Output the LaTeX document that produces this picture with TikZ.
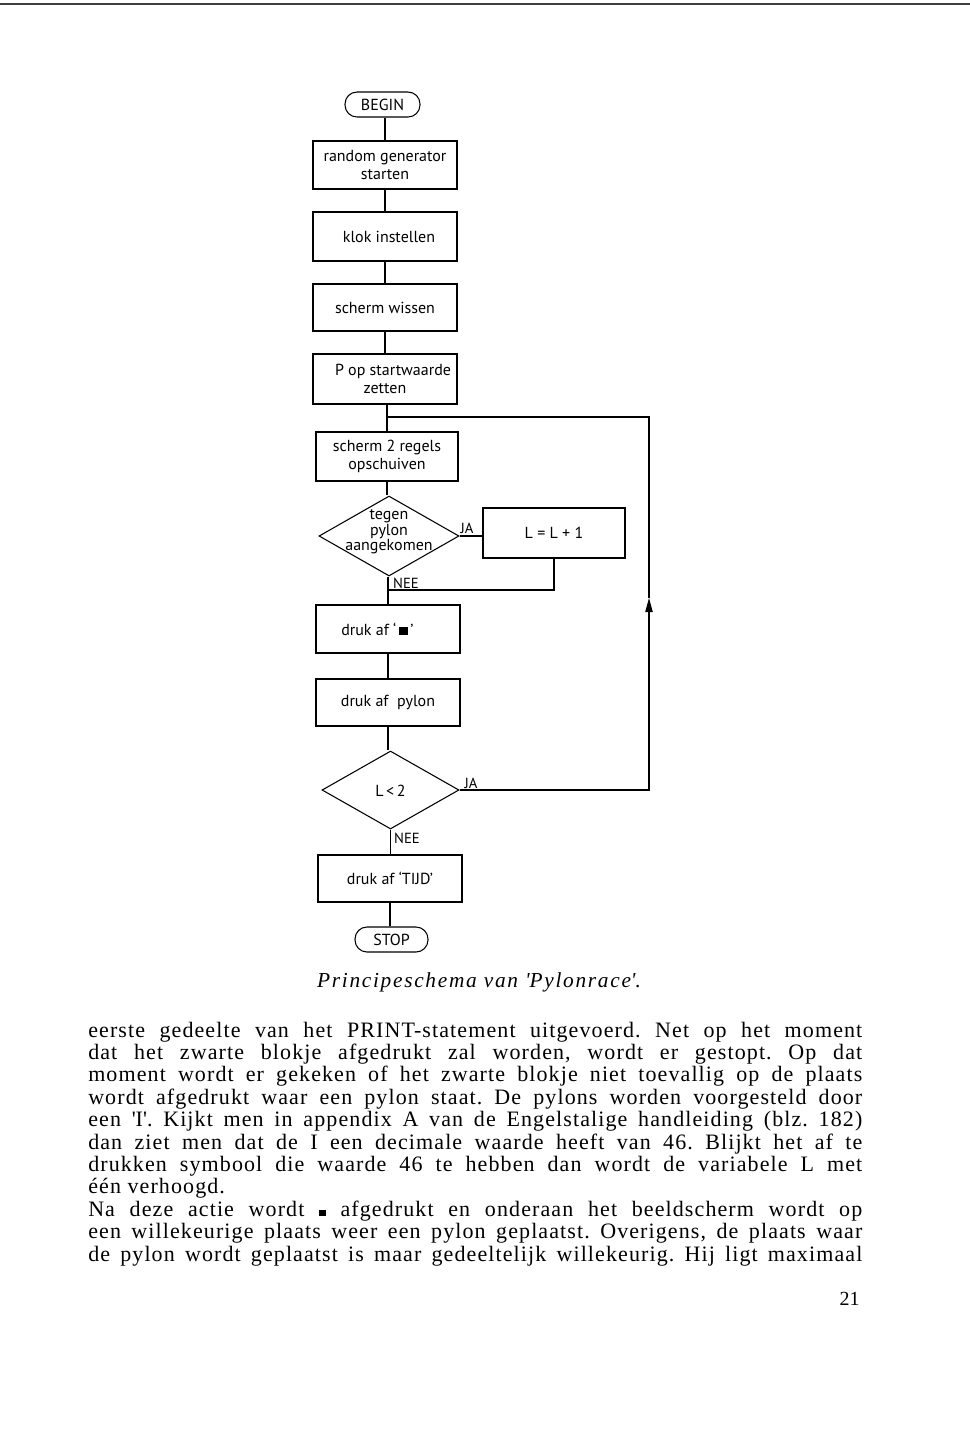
\documentclass[tikz,border=0pt]{standalone}
\usepackage{fontspec}
\setmainfont{Liberation Serif}
\newfontfamily\chartfont{PT Sans}
\newfontfamily\bodyfont[LetterSpace=5]{Liberation Serif}
\newfontfamily\capfont[LetterSpace=8]{Liberation Serif}
\usetikzlibrary{arrows.meta,shapes.geometric,calc}
\tikzset{
  flow/.style={line width=0.8pt},
  procbox/.style={draw, flow, inner sep=0pt, align=center,
     font=\chartfont\fontsize{12}{14}\selectfont},
  term/.style={draw, flow, rounded corners=9pt, inner sep=0pt,
     font=\chartfont\fontsize{12}{14}\selectfont},
  decision/.style={draw, flow, diamond, inner sep=0pt},
  dtext/.style={align=center, inner sep=0pt,
     font=\chartfont\fontsize{12}{11.5}\selectfont},
  lbl/.style={inner sep=0pt, font=\chartfont\fontsize{11}{12}\selectfont},
  bodyline/.style={anchor=base west, inner sep=0pt,
     font=\bodyfont\fontsize{16.5}{18}\selectfont},
  ahead/.style={-{Triangle[length=10.5pt,width=5.5pt]}}
}
\newcommand{\jline}[1]{\makebox[580.5pt][s]{#1}}
\frenchspacing
\begin{document}
\begin{tikzpicture}[x=0.75pt,y=-0.75pt]
\useasboundingbox (0,0) rectangle (970,1454);
% page edge line
\draw[line width=1.1pt, black!75] (0,4) -- (970,4);

% flowchart nodes
\node[term, minimum width=56.25pt, minimum height=18.75pt] (begin) at (382.5,104.5) {BEGIN};
\node[procbox, minimum width=108pt, minimum height=36pt] (b1) at (385,165) {random generator\\starten};
\node[procbox, minimum width=108pt, minimum height=36.75pt] (b2) at (385,236.5) {\hspace*{6pt}klok instellen};
\node[procbox, minimum width=108pt, minimum height=35.25pt] (b3) at (385,307.5) {scherm wissen};
\node[procbox, minimum width=108pt, minimum height=37.5pt] (b4) at (385,379) {\hspace*{12pt}P op startwaarde\\zetten};
\node[procbox, minimum width=106.5pt, minimum height=36.75pt] (b5) at (387,456.5) {scherm 2 regels\\opschuiven};
\node[decision, minimum width=105pt, minimum height=60pt] (d1) at (389,536) {};
\node[dtext] (d1t) at (389,532) {tegen\\pylon\\aangekomen};
\node[procbox, minimum width=106.5pt, minimum height=37.5pt] (ll) at (554,533) {L = L + 1};
\node[procbox, minimum width=108pt, minimum height=36pt] (b6) at (388,629) {druk af ‘\,\rule[-0.2pt]{6.5pt}{6.5pt}\,’\hspace*{16pt}};
\node[procbox, minimum width=108pt, minimum height=35.25pt] (b7) at (388,702.5) {druk af\ \ pylon};
\node[decision, minimum width=102.75pt, minimum height=58.5pt] (d2) at (390.5,790) {};
\node[dtext] (d2t) at (390.5,791) {L\,<\,2};
\node[procbox, minimum width=108pt, minimum height=35.25pt] (b8) at (390,878.5) {druk af ‘TIJD’};
\node[term, minimum width=54.75pt, minimum height=18.75pt] (stop) at (391.5,939.5) {STOP};

% labels
\node[lbl] (ja1) at (467,528) {JA};
\node[lbl] (nee1) at (406,583) {NEE};
\node[lbl] (ja2) at (471,783) {JA};
\node[lbl] (nee2) at (407,838) {NEE};

% helper coordinates
\coordinate (j) at (b5.north |- 0,417);
\coordinate (m) at (b6.north |- 0,590);
\coordinate (cr) at (649,790);
\coordinate (tip) at (649,598);
\coordinate (ctop) at (649,417);

% connectors
\draw[flow] (b1.north |- begin.south) -- (b1.north);
\draw[flow] (b1.south) -- (b2.north);
\draw[flow] (b2.south) -- (b3.north);
\draw[flow] (b3.south) -- (b4.north);
\draw[flow] (b5.north |- b4.south) -- (b5.north);
\draw[flow] (b5.south) -- (d1.north -| b5.south);
\draw[flow] (d1.east) -- (d1.east -| ll.west);
\draw[flow] (b6.north |- d1.south) -- (b6.north);
\draw[flow] (ll.south) |- (m);
\draw[flow] (b6.south) -- (b7.north);
\draw[flow] (b7.south) -- (d2.north -| b7.south);
\draw[flow] (d2.south) -- (b8.north -| d2.south);
\draw[flow] (stop.north -| b8.south) -- (b8.south);
\draw[flow, ahead] (d2.east) -- (cr) -- (tip);
\draw[flow] (tip) -- (ctop) -- (j);

% caption
\node[anchor=base, inner sep=0pt, font=\capfont\itshape\fontsize{16}{18}\selectfont] (cap) at (479,987) {Principeschema van \textquotesingle Pylonrace\textquotesingle.};

% body text
\node[bodyline] (t1) at (88,1037) {\jline{eerste gedeelte van het PRINT-statement uitgevoerd. Net op het moment}};
\node[bodyline] (t2) at (88,1059.4) {\jline{dat het zwarte blokje afgedrukt zal worden, wordt er gestopt. Op dat}};
\node[bodyline] (t3) at (88,1081.8) {\jline{moment wordt er gekeken of het zwarte blokje niet toevallig op de plaats}};
\node[bodyline] (t4) at (88,1104.2) {\jline{wordt afgedrukt waar een pylon staat. De pylons worden voorgesteld door}};
\node[bodyline] (t5) at (88,1126.6) {\jline{een \textquotesingle I\textquotesingle. Kijkt men in appendix A van de Engelstalige handleiding (blz. 182)}};
\node[bodyline] (t6) at (88,1149) {\jline{dan ziet men dat de I een decimale waarde heeft van 46. Blijkt het af te}};
\node[bodyline] (t7) at (88,1171.4) {\jline{drukken symbool die waarde 46 te hebben dan wordt de variabele L met}};
\node[bodyline] (t8) at (88,1193.8) {één verhoogd.};
\node[bodyline] (t9) at (88,1216.2) {\jline{Na deze actie wordt \rule[0pt]{5pt}{5pt} afgedrukt en onderaan het beeldscherm wordt op}};
\node[bodyline] (t10) at (88,1238.6) {\jline{een willekeurige plaats weer een pylon geplaatst. Overigens, de plaats waar}};
\node[bodyline] (t11) at (88,1261) {\jline{de pylon wordt geplaatst is maar gedeeltelijk willekeurig. Hij ligt maximaal}};
\node[anchor=base east, inner sep=0pt, font=\fontsize{15}{18}\selectfont] (pg) at (860,1305) {21};
\end{tikzpicture}
\end{document}
